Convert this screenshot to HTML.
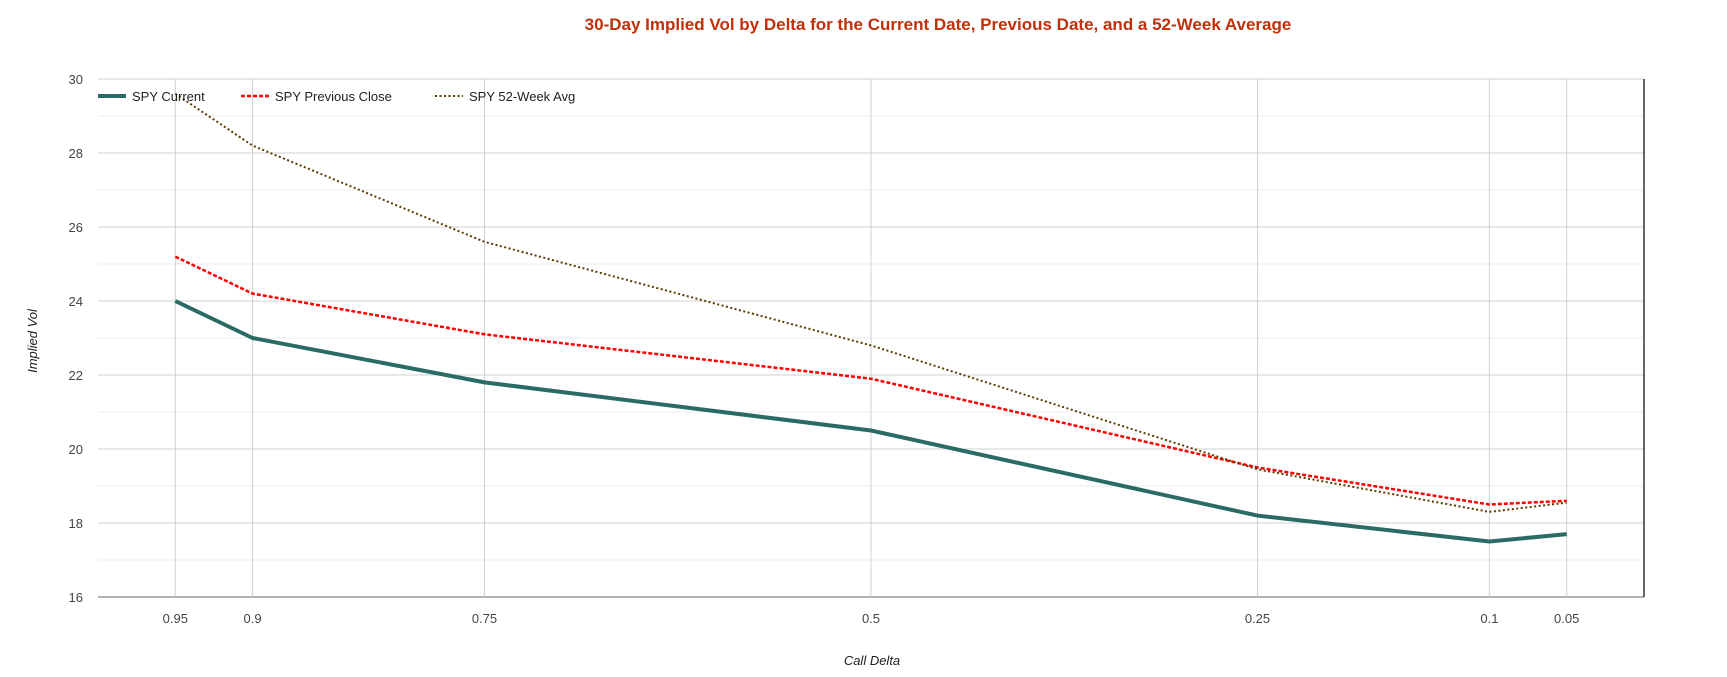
<!DOCTYPE html>
<html><head><meta charset="utf-8"><style>
body{margin:0;background:#fff;font-family:"Liberation Sans",sans-serif}
svg{display:block}
</style></head><body>
<svg id="chart" width="1727" height="677" viewBox="0 0 1727 677">
<text x="938" y="30" text-anchor="middle" font-size="17" font-weight="bold" fill="#c0300a">30-Day Implied Vol by Delta for the Current Date, Previous Date, and a 52-Week Average</text>
<g id="grid"></g>
<g id="series"></g>
<g id="legend"></g>
<text transform="translate(37,341) rotate(-90)" text-anchor="middle" font-size="13" font-style="italic" fill="#222">Implied Vol</text>
<text x="872" y="665" text-anchor="middle" font-size="13" font-style="italic" fill="#222">Call Delta</text>
</svg>
<script>
const categories=[0.95,0.9,0.75,0.5,0.25,0.1,0.05];
const current=[24,23,21.8,20.5,18.2,17.5,17.7];
const previous=[25.2,24.2,23.1,21.9,19.5,18.5,18.6];
const avg52=[29.6,28.2,25.6,22.8,19.45,18.3,18.55];
const yTicks=[16,18,20,22,24,26,28,30];
const seriesNames=["SPY Current","SPY Previous Close","SPY 52-Week Avg"];
const L=98,R=1644,T=79,B=597;
const X=d=>L+(1-d)*(R-L);
const Y=v=>B-(v-16)/14*(B-T);
const NS="http://www.w3.org/2000/svg";
function mk(tag,attrs,parent){const e=document.createElementNS(NS,tag);for(const k in attrs)e.setAttribute(k,attrs[k]);parent.appendChild(e);return e;}
const grid=document.getElementById('grid');
for(let v=17;v<30;v+=2){const l=mk('line',{x1:L,x2:R,y1:Y(v),y2:Y(v),stroke:'#ececec','stroke-width':1},grid);

}
yTicks.forEach(v=>{const l=mk('line',{x1:L,x2:R,y1:Y(v),y2:Y(v),stroke:v===16?'#999':'#d0d0d0','stroke-width':v===16?1.5:1},grid);


const t=mk('text',{x:L-15,y:Y(v)+5,'text-anchor':'end','font-size':13,fill:'#444'},grid);t.textContent=v;

});
categories.forEach(d=>{const l=mk('line',{x1:X(d),x2:X(d),y1:T,y2:B,stroke:'#d0d0d0','stroke-width':1},grid);


const t=mk('text',{x:X(d),y:B+26,'text-anchor':'middle','font-size':13,fill:'#444'},grid);t.textContent=d;

});
const rb=mk('line',{x1:R,x2:R,y1:T,y2:B,stroke:'#333','stroke-width':1.5},grid);


const styles=[{c:'#2a6b66',w:4,d:''},{c:'#ff0000',w:2.5,d:'4 2'},{c:'#5a3c00',w:2,d:'2 2.5'}];
const sg=document.getElementById('series');
[current,previous,avg52].forEach((vals,i)=>{const s=styles[i];
const pts=vals.map((v,j)=>X(categories[j])+','+Y(v)).join(' ');
const p=mk('polyline',{points:pts,fill:'none',stroke:s.c,'stroke-width':s.w,'stroke-dasharray':s.d,'stroke-linejoin':'round'},sg);

});
const lg=document.getElementById('legend');
const lx=[98,241,435];
seriesNames.forEach((n,i)=>{const s=styles[i];
const l=mk('line',{x1:lx[i],x2:lx[i]+28,y1:96,y2:96,stroke:s.c,'stroke-width':s.w,'stroke-dasharray':s.d},lg);


const t=mk('text',{x:lx[i]+34,y:101,'font-size':13,fill:'#222'},lg);t.textContent=n;

});
</script>
</body></html>
